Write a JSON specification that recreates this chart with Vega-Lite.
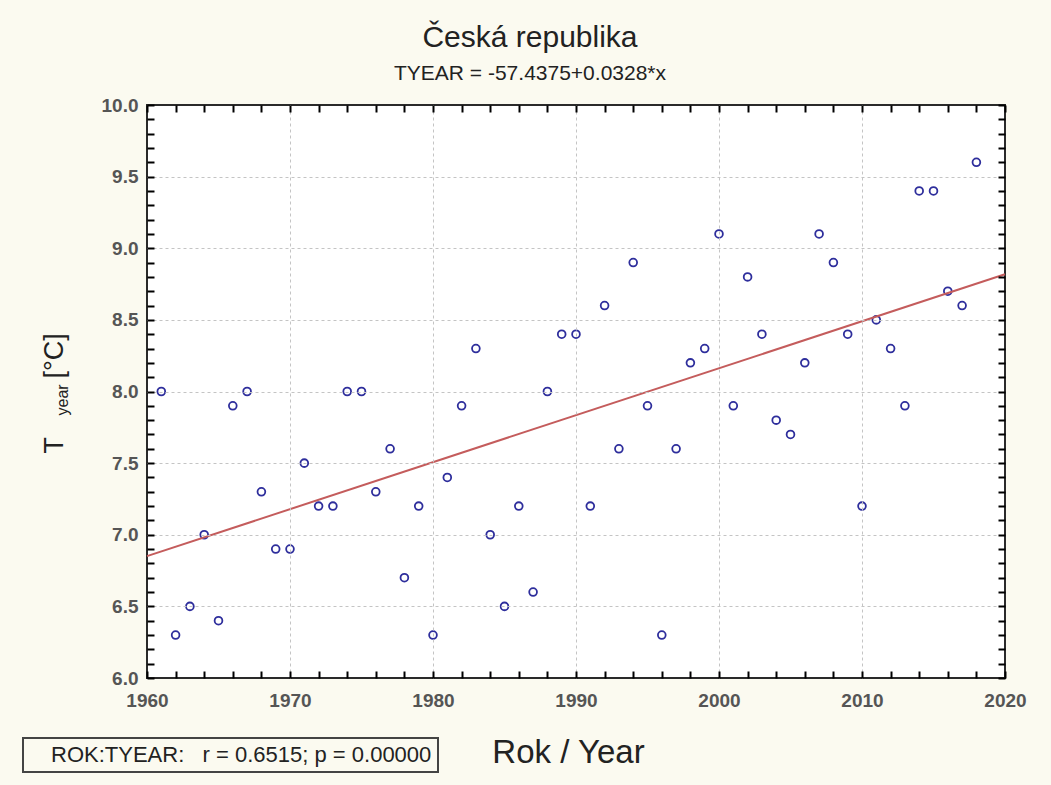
{
  "$schema": "https://vega.github.io/schema/vega-lite/v6.json",
  "width": 858,
  "height": 573,
  "autosize": {"type": "none"},
  "padding": {"left": 147, "top": 105, "right": 46, "bottom": 107},
  "background": "#fbfaf0",
  "title": {
    "text": "Česká republika",
    "subtitle": "TYEAR = -57.4375+0.0328*x",
    "anchor": "middle",
    "dx": -46,
    "offset": 12,
    "font": "Liberation Sans",
    "fontSize": 30,
    "fontWeight": "normal",
    "color": "#222222",
    "subtitleFont": "Liberation Sans",
    "subtitleFontSize": 21,
    "subtitleColor": "#222222",
    "subtitlePadding": 10
  },
  "datasets": {
    "obs": [
      {"year": 1961, "t": 8.0}, {"year": 1962, "t": 6.3}, {"year": 1963, "t": 6.5}, {"year": 1964, "t": 7.0},
      {"year": 1965, "t": 6.4}, {"year": 1966, "t": 7.9}, {"year": 1967, "t": 8.0}, {"year": 1968, "t": 7.3},
      {"year": 1969, "t": 6.9}, {"year": 1970, "t": 6.9}, {"year": 1971, "t": 7.5}, {"year": 1972, "t": 7.2},
      {"year": 1973, "t": 7.2}, {"year": 1974, "t": 8.0}, {"year": 1975, "t": 8.0}, {"year": 1976, "t": 7.3},
      {"year": 1977, "t": 7.6}, {"year": 1978, "t": 6.7}, {"year": 1979, "t": 7.2}, {"year": 1980, "t": 6.3},
      {"year": 1981, "t": 7.4}, {"year": 1982, "t": 7.9}, {"year": 1983, "t": 8.3}, {"year": 1984, "t": 7.0},
      {"year": 1985, "t": 6.5}, {"year": 1986, "t": 7.2}, {"year": 1987, "t": 6.6}, {"year": 1988, "t": 8.0},
      {"year": 1989, "t": 8.4}, {"year": 1990, "t": 8.4}, {"year": 1991, "t": 7.2}, {"year": 1992, "t": 8.6},
      {"year": 1993, "t": 7.6}, {"year": 1994, "t": 8.9}, {"year": 1995, "t": 7.9}, {"year": 1996, "t": 6.3},
      {"year": 1997, "t": 7.6}, {"year": 1998, "t": 8.2}, {"year": 1999, "t": 8.3}, {"year": 2000, "t": 9.1},
      {"year": 2001, "t": 7.9}, {"year": 2002, "t": 8.8}, {"year": 2003, "t": 8.4}, {"year": 2004, "t": 7.8},
      {"year": 2005, "t": 7.7}, {"year": 2006, "t": 8.2}, {"year": 2007, "t": 9.1}, {"year": 2008, "t": 8.9},
      {"year": 2009, "t": 8.4}, {"year": 2010, "t": 7.2}, {"year": 2011, "t": 8.5}, {"year": 2012, "t": 8.3},
      {"year": 2013, "t": 7.9}, {"year": 2014, "t": 9.4}, {"year": 2015, "t": 9.4}, {"year": 2016, "t": 8.7},
      {"year": 2017, "t": 8.6}, {"year": 2018, "t": 9.6}
    ],
    "fit": [
      {"year": 1960, "fit": 6.8505, "stat": "ROK:TYEAR:\u00a0\u00a0\u00a0r = 0.6515; p = 0.00000"},
      {"year": 2020, "fit": 8.8185, "stat": "ROK:TYEAR:\u00a0\u00a0\u00a0r = 0.6515; p = 0.00000"}
    ]
  },
  "config": {
    "view": {"fill": "#ffffff", "stroke": "#2a2a2a", "strokeWidth": 2},
    "axis": {
      "domain": false,
      "labelFont": "Liberation Sans",
      "labelFontWeight": "bold",
      "labelColor": "#555555",
      "labelFontSize": 19,
      "titleFont": "Liberation Sans",
      "titleFontWeight": "normal",
      "titleColor": "#222222",
      "gridColor": "#c4c4c4",
      "gridDash": [3, 3],
      "gridWidth": 1
    },
    "legend": {
      "orient": "none",
      "legendX": -124,
      "legendY": 633,
      "strokeColor": "#444444",
      "strokeWidth": 2,
      "padding": 6,
      "labelFont": "Liberation Sans",
      "labelFontSize": 22,
      "labelColor": "#222222",
      "labelLimit": 700,
      "labelOffset": 0
    }
  },
  "resolve": {"axis": {"x": "independent", "y": "independent"}},
  "layer": [
    {
      "data": {"name": "obs"},
      "mark": {"type": "point", "shape": "circle", "filled": false, "stroke": "#2e2e9c", "strokeWidth": 1.8, "size": 60, "opacity": 1},
      "encoding": {
        "x": {
          "field": "year", "type": "quantitative",
          "scale": {"domain": [1960, 2020], "nice": false, "zero": false},
          "axis": {
            "orient": "bottom",
            "values": [1960,1962,1964,1966,1968,1970,1972,1974,1976,1978,1980,1982,1984,1986,1988,1990,1992,1994,1996,1998,2000,2002,2004,2006,2008,2010,2012,2014,2016,2018,2020],
            "labelExpr": "datum.value % 10 === 0 ? datum.value : ''",
            "ticks": true,
            "tickSize": 7,
            "tickColor": "#000000",
            "tickWidth": 2,
            "tickOpacity": 1,
            "offset": -7,
            "zindex": 1,
            "labelPadding": 13,
            "labelFlush": false,
            "labelOverlap": false,
            "grid": true,
            "gridOpacity": {"condition": {"test": "datum.value % 10 === 0 && datum.value > 1960 && datum.value < 2020", "value": 1}, "value": 0},
            "title": "Rok / Year",
            "titleFontSize": 33,
            "titleX": 421,
            "titleY": 91,
            "titleAlign": "center",
            "titleBaseline": "alphabetic"
          }
        },
        "y": {
          "field": "t", "type": "quantitative",
          "scale": {"domain": [6, 10], "nice": false, "zero": false},
          "axis": {
            "orient": "left",
            "values": [6.0,6.1,6.2,6.3,6.4,6.5,6.6,6.7,6.8,6.9,7.0,7.1,7.2,7.3,7.4,7.5,7.6,7.7,7.8,7.9,8.0,8.1,8.2,8.3,8.4,8.5,8.6,8.7,8.8,8.9,9.0,9.1,9.2,9.3,9.4,9.5,9.6,9.7,9.8,9.9,10.0],
            "labelExpr": "abs(datum.value * 2 - round(datum.value * 2)) < 0.001 ? format(datum.value, '.1f') : ''",
            "ticks": true,
            "tickSize": 7,
            "tickColor": "#000000",
            "tickWidth": 2,
            "tickOpacity": 1,
            "offset": -7,
            "zindex": 1,
            "labelPadding": 9,
            "labelFlush": false,
            "labelOverlap": false,
            "grid": true,
            "gridOpacity": {"condition": {"test": "abs(datum.value * 2 - round(datum.value * 2)) < 0.001 && datum.value > 6.05 && datum.value < 9.95", "value": 1}, "value": 0},
            "title": "T",
            "titleFontSize": 27,
            "titleAngle": 270,
            "titleAlign": "left",
            "titleBaseline": "alphabetic",
            "titleX": -92,
            "titleY": 348
          }
        }
      }
    },
    {
      "data": {"name": "fit"},
      "mark": {"type": "line", "strokeWidth": 2},
      "encoding": {
        "x": {
          "field": "year", "type": "quantitative",
          "scale": {"domain": [1960, 2020], "nice": false, "zero": false},
          "axis": {
            "orient": "top",
            "values": [1960,1962,1964,1966,1968,1970,1972,1974,1976,1978,1980,1982,1984,1986,1988,1990,1992,1994,1996,1998,2000,2002,2004,2006,2008,2010,2012,2014,2016,2018,2020],
            "labels": false,
            "ticks": true,
            "tickSize": 7,
            "tickColor": "#000000",
            "tickWidth": 2,
            "tickOpacity": 1,
            "offset": -7,
            "zindex": 1,
            "grid": false,
            "title": "[°C]",
            "titleFontSize": 27,
            "titleAngle": 270,
            "titleAlign": "left",
            "titleBaseline": "alphabetic",
            "titleX": -85,
            "titleY": 266
          }
        },
        "y": {
          "field": "fit", "type": "quantitative",
          "scale": {"domain": [6, 10], "nice": false, "zero": false},
          "axis": {
            "orient": "right",
            "values": [6.0,6.1,6.2,6.3,6.4,6.5,6.6,6.7,6.8,6.9,7.0,7.1,7.2,7.3,7.4,7.5,7.6,7.7,7.8,7.9,8.0,8.1,8.2,8.3,8.4,8.5,8.6,8.7,8.8,8.9,9.0,9.1,9.2,9.3,9.4,9.5,9.6,9.7,9.8,9.9,10.0],
            "labels": false,
            "ticks": true,
            "tickSize": 7,
            "tickColor": "#000000",
            "tickWidth": 2,
            "tickOpacity": 1,
            "offset": -7,
            "zindex": 1,
            "grid": false,
            "title": "year",
            "titleFontSize": 16,
            "titleAngle": 270,
            "titleAlign": "left",
            "titleBaseline": "alphabetic",
            "titleX": -931,
            "titleY": 310
          }
        },
        "color": {
          "field": "stat", "type": "nominal",
          "scale": {"range": ["#c45c5c"]},
          "legend": {"title": null, "symbolType": "circle", "symbolSize": 0, "symbolStrokeWidth": 0, "symbolOpacity": 0, "labelOffset": 0}
        }
      }
    }
  ]
}
